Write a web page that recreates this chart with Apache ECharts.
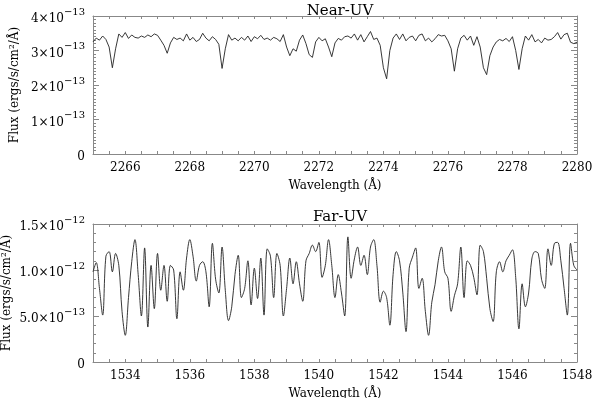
<!DOCTYPE html>
<html>
<head>
<meta charset="utf-8">
<script src="https://cdn.jsdelivr.net/npm/echarts@6/dist/echarts.min.js"></script>
<style>
  html, body { margin: 0; padding: 0; background: #fff; }
  #chart { width: 593px; height: 398px; }
</style>
</head>
<body>
<div id="chart"></div>
<script>
// Near-UV spectrum, 0.1 A sampling from 2265.0 A, flux in 1e-13 erg/s/cm2/A
const nuvStart = 2265.0
const nuvStep = 0.1
const nuvFlux = [
  3.25, 3.36, 3.30, 3.42, 3.32, 3.10, 2.50, 3.05, 3.48, 3.38,
  3.52, 3.35, 3.45, 3.38, 3.36, 3.42, 3.38, 3.45, 3.40, 3.48,
  3.44, 3.30, 3.15, 2.92, 3.22, 3.38, 3.32, 3.36, 3.28, 3.48,
  3.30, 3.38, 3.26, 3.32, 3.50, 3.36, 3.28, 3.40, 3.32, 3.18,
  2.48, 3.05, 3.46, 3.30, 3.36, 3.28, 3.38, 3.30, 3.42, 3.26,
  3.40, 3.34, 3.44, 3.32, 3.36, 3.30, 3.38, 3.34, 3.26, 3.46,
  3.10, 2.85, 3.05, 2.98, 3.30, 3.45, 3.20, 2.88, 2.80, 3.25,
  3.38, 3.28, 3.34, 3.10, 2.82, 3.22, 3.35, 3.30, 3.40, 3.42,
  3.36, 3.48, 3.30, 3.46, 3.25, 3.40, 3.55, 3.32, 3.36, 3.15,
  2.50, 2.18, 3.00, 3.36, 3.48, 3.32, 3.48, 3.28, 3.38, 3.42,
  3.28, 3.44, 3.48, 3.28, 3.36, 3.25, 3.34, 3.46, 3.42, 3.44,
  3.28, 3.05, 2.40, 3.05, 3.36, 3.44, 3.30, 3.42, 3.15, 3.40,
  3.10, 2.50, 2.30, 2.85, 3.10, 3.25, 3.32, 3.28, 3.35, 3.26,
  3.40, 3.00, 2.45, 3.05, 3.42, 3.30, 3.46, 3.25, 3.32, 3.22,
  3.36, 3.30, 3.32, 3.40, 3.52, 3.33, 3.46, 3.50, 3.24, 3.20,
  3.24
]

// Far-UV spectrum, 0.1 A sampling from 1533.0 A, flux in 1e-12 erg/s/cm2/A
const fuvStart = 1533.0
const fuvStep = 0.1
const fuvFlux = [
  0.98, 1.08, 0.80, 0.51, 1.15, 1.20, 0.98, 1.18, 1.05, 0.55,
  0.29, 0.70, 1.09, 1.33, 0.95, 0.50, 1.24, 0.38, 1.05, 0.58,
  1.18, 0.78, 1.05, 0.66, 1.05, 1.00, 0.47, 0.98, 0.78, 1.13,
  1.33, 1.15, 0.88, 1.05, 1.09, 0.98, 0.60, 1.29, 0.90, 0.75,
  1.25, 0.78, 0.45, 0.60, 0.95, 1.16, 0.70, 0.80, 1.10, 0.62,
  1.02, 0.69, 1.13, 0.51, 1.23, 1.15, 0.70, 1.18, 1.05, 0.50,
  0.80, 1.13, 0.85, 1.09, 0.85, 0.66, 1.10, 1.18, 1.27, 1.20,
  1.30, 0.92, 1.05, 1.33, 1.05, 0.70, 0.95, 0.75, 0.50, 1.36,
  0.91, 1.12, 1.25, 1.05, 1.16, 0.95, 1.25, 1.33, 1.05, 0.65,
  0.77, 0.70, 0.40, 0.95, 1.20, 1.10, 0.76, 0.33, 1.02, 1.14,
  1.24, 0.80, 0.91, 0.55, 0.29, 0.65, 0.84, 1.10, 1.25, 0.98,
  0.91, 0.55, 0.72, 0.85, 1.25, 0.70, 1.10, 1.05, 0.92, 0.73,
  1.27, 1.20, 0.91, 0.58, 0.44, 0.98, 1.09, 0.98, 1.10, 1.16,
  1.22, 0.92, 0.36, 0.85, 0.60, 0.75, 1.12, 1.20, 1.18, 0.90,
  0.80, 1.23, 1.05, 1.29, 1.30, 1.10, 0.80, 0.51, 1.29, 1.05,
  1.00
]

// labelled ticks
const nuvWaveTicks = [2266, 2268, 2270, 2272, 2274, 2276, 2278, 2280]
const fuvWaveTicks = [1534, 1536, 1538, 1540, 1542, 1544, 1546, 1548]

const FONT = 'DejaVu Serif'
const frameColor = '#888'

const toPairs = (start, step, values) =>
  values.map((v, i) => [+(start + i * step).toFixed(2), v])

const expLabel = (mant, exp) => '{m|' + mant + '×10}{e|−' + exp + '}'
const richExp = {
  m: { fontFamily: FONT, fontSize: 12, color: '#000', lineHeight: 18, verticalAlign: 'bottom' },
  e: { fontFamily: FONT, fontSize: 10, color: '#000', lineHeight: 10, verticalAlign: 'top' }
}

const makeX = (gridIndex, min, max, ticks, bottom) => ({
  type: 'value',
  gridIndex: gridIndex,
  position: bottom ? 'bottom' : 'top',
  min: min,
  max: max,
  interval: 0.5,
  name: bottom ? 'Wavelength (Å)' : '',
  nameLocation: 'middle',
  nameGap: 26,
  nameMoveOverlap: false,
  nameTextStyle: { fontFamily: FONT, fontSize: 12, color: '#000' },
  axisLine: { show: true, onZero: false, lineStyle: { color: frameColor, width: 1 } },
  axisTick: { show: true, inside: true, length: 3, lineStyle: { color: frameColor } },
  axisLabel: {
    show: bottom,
    margin: 8,
    fontFamily: FONT,
    fontSize: 12,
    color: '#000',
    showMinLabel: true,
    showMaxLabel: true,
    formatter: v => ticks.indexOf(v) >= 0 ? String(v) : ''
  },
  splitLine: { show: false }
})

const makeY = (gridIndex, max, interval, minorSplit, left, fmt, gap) => ({
  type: 'value',
  gridIndex: gridIndex,
  position: left ? 'left' : 'right',
  min: 0,
  max: max,
  interval: interval,
  name: left ? 'Flux (ergs/s/cm²/Å)' : '',
  nameLocation: 'middle',
  nameGap: gap,
  nameMoveOverlap: false,
  nameTextStyle: { fontFamily: FONT, fontSize: 12, color: '#000' },
  axisLine: { show: true, onZero: false, lineStyle: { color: frameColor, width: 1 } },
  axisTick: { show: true, inside: true, length: 6, lineStyle: { color: frameColor } },
  minorTick: { show: true, splitNumber: minorSplit, length: 3, lineStyle: { color: frameColor } },
  axisLabel: {
    show: left,
    margin: 8,
    formatter: fmt,
    rich: richExp
  },
  splitLine: { show: false }
})

const nuvFmt = v => v === 0 ? '{m|0}' : expLabel(String(v), 13)
const fuvFmt = v => {
  if (v === 0) return '{m|0}'
  if (v < 1) return expLabel((v * 10).toFixed(1), 13)
  return expLabel(v.toFixed(1), 12)
}

const chart = echarts.init(document.getElementById('chart'), null, { renderer: 'canvas' })

const option = {
  animation: false,
  backgroundColor: '#fff',
  title: [
    { text: 'Near-UV', left: 335, top: -1, textAlign: 'center',
      textStyle: { fontFamily: FONT, fontSize: 15, fontWeight: 'normal', color: '#000' } },
    { text: 'Far-UV', left: 335, top: 205, textAlign: 'center',
      textStyle: { fontFamily: FONT, fontSize: 15, fontWeight: 'normal', color: '#000' } }
  ],
  grid: [
    { left: 93, right: 16, top: 16, height: 138, outerBoundsMode: 'none', containLabel: false },
    { left: 93, right: 16, top: 224, height: 138, outerBoundsMode: 'none', containLabel: false }
  ],
  xAxis: [
    makeX(0, 2265, 2280, nuvWaveTicks, true),
    makeX(0, 2265, 2280, nuvWaveTicks, false),
    makeX(1, 1533, 1548, fuvWaveTicks, true),
    makeX(1, 1533, 1548, fuvWaveTicks, false)
  ],
  yAxis: [
    makeY(0, 4, 1, 10, true, nuvFmt, 72),
    makeY(0, 4, 1, 10, false, nuvFmt, 72),
    makeY(1, 1.5, 0.5, 5, true, fuvFmt, 80),
    makeY(1, 1.5, 0.5, 5, false, fuvFmt, 80)
  ],
  series: [
    {
      name: 'Near-UV',
      type: 'line',
      xAxisIndex: 0,
      yAxisIndex: 0,
      data: toPairs(nuvStart, nuvStep, nuvFlux),
      showSymbol: false,
      clip: true,
      lineStyle: { color: '#222', width: 0.9 }
    },
    {
      name: 'Far-UV',
      type: 'line',
      xAxisIndex: 2,
      yAxisIndex: 2,
      data: toPairs(fuvStart, fuvStep, fuvFlux),
      showSymbol: false,
      smooth: 0.35,
      clip: true,
      lineStyle: { color: '#222', width: 0.9 }
    }
  ]
}

chart.setOption(option)
</script>
</body>
</html>
